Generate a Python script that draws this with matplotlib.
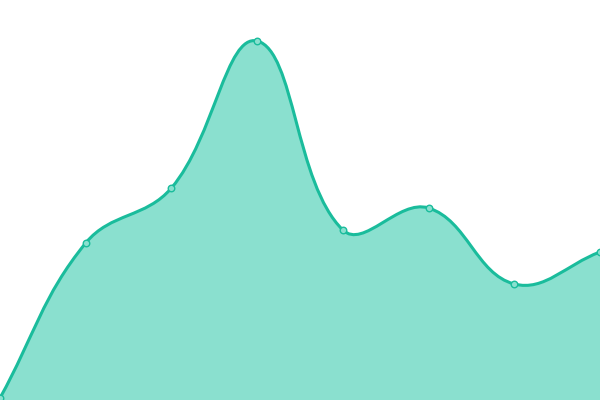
"""Smooth filled area line, Chart.js-style spline (tension 0.4)."""
import matplotlib
matplotlib.use("Agg")
import matplotlib.pyplot as plt
from matplotlib.path import Path
from matplotlib.patches import PathPatch

# ── Data ─────────────────────────────────────────────────────────────
labels = ["A", "B", "C", "D", "E", "F", "G", "H"]
values = [2, 157, 212, 359, 170, 192, 116, 148]

LINE = "#1abc9c"
FILL = "#8ae0cf"
W, H = 600, 400
Y_MAX = 400
TENSION = 0.4


def control_points(xs, ys):
    """Bezier control points in pixel space, like Chart.js splineCurve."""
    n = len(xs)
    cps = []
    for i in range(n):
        px, py = (xs[i - 1], ys[i - 1]) if i > 0 else (xs[i], ys[i])
        cx, cy = xs[i], ys[i]
        nx, ny = (xs[i + 1], ys[i + 1]) if i < n - 1 else (xs[i], ys[i])
        d01 = ((cx - px) ** 2 + (cy - py) ** 2) ** 0.5
        d12 = ((nx - cx) ** 2 + (ny - cy) ** 2) ** 0.5
        tot = d01 + d12
        s01 = d01 / tot if tot else 0
        s12 = d12 / tot if tot else 0
        fa, fb = TENSION * s01, TENSION * s12
        prev_cp = (cx - fa * (nx - px), cy - fa * (ny - py))
        next_cp = (cx + fb * (nx - px), cy + fb * (ny - py))
        cps.append((prev_cp, next_cp))
    return cps


n = len(values)
xs = [i * W / (n - 1) for i in range(n)]
ys = list(values)
cps = control_points(xs, ys)

verts = [(xs[0], ys[0])]
codes = [Path.MOVETO]
for i in range(1, n):
    verts += [cps[i - 1][1], cps[i][0], (xs[i], ys[i])]
    codes += [Path.CURVE4] * 3

line_path = Path(verts, codes)
fill_path = Path(verts + [(xs[-1], 0), (xs[0], 0), (xs[0], ys[0])],
                 codes + [Path.LINETO, Path.LINETO, Path.LINETO])

fig = plt.figure(figsize=(6, 4), dpi=100)
ax = fig.add_axes([0, 0, 1, 1])
ax.set_xlim(0, W)
ax.set_ylim(0, Y_MAX)
ax.axis("off")

ax.add_patch(PathPatch(fill_path, facecolor=FILL, edgecolor="none"))
ax.add_patch(PathPatch(line_path, facecolor="none", edgecolor=LINE, linewidth=2.2,
                       capstyle="round", joinstyle="round"))
ax.scatter(xs, ys, s=22, facecolor="#8ae0cf", edgecolor=LINE, linewidth=1.0,
           zorder=5, clip_on=False)

fig.savefig("out.png", dpi=100)
plt.close(fig)
